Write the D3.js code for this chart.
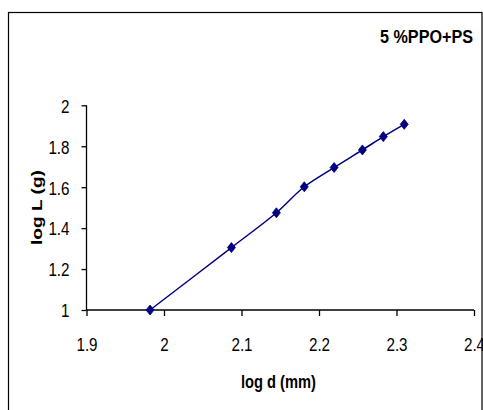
<!DOCTYPE html>
<html>
<head>
<meta charset="utf-8">
<script src="https://cdn.jsdelivr.net/npm/d3@7"></script>
<style>
  body { margin: 0; background: #fff; }
  svg { display: block; }
  text { font-family: "Liberation Sans", Arial, sans-serif; fill: #000; }
</style>
</head>
<body>
<div id="chart"></div>
<script>
// values
var logD = [1.982, 2.087, 2.145, 2.181, 2.2195, 2.256, 2.283, 2.310];
var logL = [1.000, 1.305, 1.475, 1.602, 1.696, 1.782, 1.847, 1.907];
var xTicks = [1.9, 2.0, 2.1, 2.2, 2.3, 2.4];
var yTicks = [1, 1.2, 1.4, 1.6, 1.8, 2];
var title = "5 %PPO+PS";
var xTitle = "log d (mm)";
var yTitle = "log L (g)";

var width = 483, height = 410;
var navy = "#000080";
var squeeze = 0.8; // the text in the picture is narrower than it is tall

var svg = d3.select("#chart").append("svg")
  .attr("width", width)
  .attr("height", height);

// outer frame
svg.append("rect")
  .attr("x", 8.5).attr("y", 12.5)
  .attr("width", 473.5).attr("height", 420)
  .attr("fill", "none")
  .attr("stroke", "#000")
  .attr("stroke-width", 1.2);

/* Scales */
var x = d3.scaleLinear().domain([1.9, 2.4]).range([86.5, 474]);
var y = d3.scaleLinear().domain([1, 2]).range([310, 105.3]);

/* Axes */
var xAxis = d3.axisBottom(x).tickValues(xTicks).tickSize(6)
  .tickFormat(d3.format("~g"));
var yAxis = d3.axisLeft(y).tickValues(yTicks).tickSize(5)
  .tickFormat(d3.format("~g"));

var gx = svg.append("g")
  .attr("transform", "translate(0,310)")
  .call(xAxis);
var gy = svg.append("g")
  .attr("transform", "translate(86.5,0)")
  .call(yAxis);

[gx, gy].forEach(function(g) {
  g.select(".domain").attr("stroke", "#000").attr("stroke-width", 1.3);
  g.selectAll(".tick line").attr("stroke", "#000").attr("stroke-width", 1.3);
  g.selectAll(".tick text")
    .style("font-family", '"Liberation Sans", Arial, sans-serif')
    .style("font-size", "19px")
    .attr("fill", "#000")
    .attr("transform", "scale(" + squeeze + ",1)");
});
gx.select(".domain").attr("d", "M86.5,0H474");
gy.select(".domain").attr("d", "M0,310V105.3");
gx.selectAll(".tick text").attr("y", 41).attr("dy", 0);
gy.selectAll(".tick text").attr("x", -17 / squeeze).attr("dy", "0.36em");

/* Line */
var pts = logD.map(function(d, i) { return [d, logL[i]]; });
var line = d3.line()
  .x(function(d) { return x(d[0]); })
  .y(function(d) { return y(d[1]); })
  .curve(d3.curveCatmullRom.alpha(0.5));

svg.append("path")
  .datum(pts)
  .attr("d", line)
  .attr("fill", "none")
  .attr("stroke", navy)
  .attr("stroke-width", 1.5);

/* Diamond markers */
svg.append("g").selectAll("path")
  .data(pts).enter()
  .append("path")
  .attr("transform", function(d) { return "translate(" + x(d[0]) + "," + y(d[1]) + ")"; })
  .attr("d", "M0,-5L4,0L0,5L-4,0Z")
  .attr("fill", navy)
  .attr("stroke", navy)
  .attr("stroke-width", 0.8);

/* Titles */
svg.append("text")
  .attr("x", 380).attr("y", 43)
  .attr("textLength", 93)
  .attr("lengthAdjust", "spacingAndGlyphs")
  .style("font-size", "17.5px")
  .style("font-weight", "bold")
  .text(title);

svg.append("text")
  .attr("x", 241).attr("y", 388)
  .attr("textLength", 75)
  .attr("lengthAdjust", "spacingAndGlyphs")
  .style("font-size", "17.5px")
  .style("font-weight", "bold")
  .text(xTitle);

svg.append("text")
  .attr("transform", "translate(42,245) rotate(-90)")
  .attr("textLength", 75)
  .attr("lengthAdjust", "spacingAndGlyphs")
  .style("font-size", "14.5px")
  .style("font-weight", "bold")
  .text(yTitle);
</script>
</body>
</html>
